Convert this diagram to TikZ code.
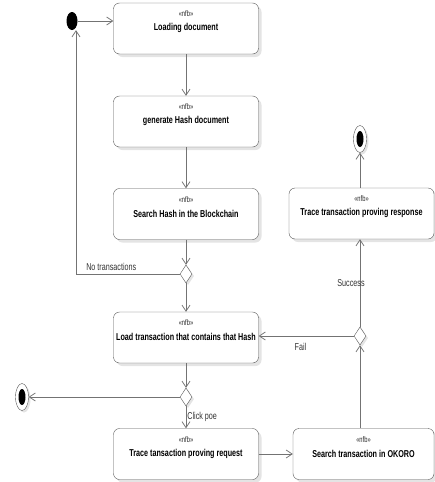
\documentclass[tikz,border=0pt]{standalone}
\usepackage{fontspec}
\setmainfont{Liberation Sans}[FakeStretch=0.72]
\usetikzlibrary{arrows.meta,shapes.geometric,shadows}
\definecolor{Wire}{HTML}{737373}
\definecolor{Frame}{HTML}{555555}
\definecolor{Shade}{HTML}{E4E4E4}

\begin{document}
\begin{tikzpicture}[x=1pt,y=-1pt,>={Straight Barb[length=6pt,width=8pt]},
    action/.style={draw=Frame,fill=white,rounded corners=6pt,minimum height=51pt,
      drop shadow={shadow xshift=3pt,shadow yshift=-3pt,fill=Shade,opacity=1}},
    branch/.style={diamond,draw=Frame,fill=white,inner sep=0pt,
      minimum width=12pt,minimum height=18pt,
      drop shadow={shadow xshift=2pt,shadow yshift=-2pt,fill=Shade,opacity=1}},
    flow/.style={->,draw=Wire,line width=0.75pt},
    lbl/.style={font=\fontsize{10}{12}\selectfont,text=black!80}]
  \useasboundingbox (0,0) rectangle (435,482);

  % activity boxes
  \foreach \n/\x/\y/\w/\t in {load/186/28.5/145/Loading document,
      hash/186/121.5/145/generate Hash document,
      search/186/214/145/Search Hash in the Blockchain,
      loadtx/186/337.5/145/Load transaction that contains that Hash,
      request/186/454/145/Trace tansaction proving request,
      okoro/363.5/454/141/Search transaction in OKORO,
      response/361.5/213.5/145/Trace transaction proving response} {
    \node[action,minimum width=\w pt] (\n) at (\x,\y) {};
    \node[font=\fontsize{8}{9}\selectfont,text=black!85] (\n-st) at ([yshift=-11pt]\n.north) {«nfb»};
    \node[font=\bfseries\fontsize{10}{12}\selectfont,text=black] (\n-tx) at ([yshift=-25.5pt]\n.north) {\t};
  }

  % start and final nodes
  \node[ellipse,fill=black,inner sep=0pt,minimum width=11pt,minimum height=18pt] (start) at (72,21) {};
  \node[ellipse,draw=Frame,fill=white,inner sep=0pt,minimum width=13pt,minimum height=27pt,
        drop shadow={shadow xshift=2pt,shadow yshift=-2pt,fill=Shade,opacity=1}] (end1) at (22,397) {};
  \node[ellipse,fill=black,inner sep=0pt,minimum width=7pt,minimum height=16pt] (end1-dot) at (end1) {};
  \node[ellipse,draw=Frame,fill=white,inner sep=0pt,minimum width=13pt,minimum height=27pt,
        drop shadow={shadow xshift=2pt,shadow yshift=-2pt,fill=Shade,opacity=1}] (end2) at (360,139) {};
  \node[ellipse,fill=black,inner sep=0pt,minimum width=7pt,minimum height=16pt] (end2-dot) at (end2) {};

  % decisions
  \node[branch] (d1) at (186,274) {};
  \node[branch] (d2) at (186,397) {};
  \node[branch] (d3) at (360,336) {};

  % flows
  \draw[flow] (start.east) -- (start.east -| load.west);
  \draw[flow] (load.south) -- (hash.north);
  \draw[flow] (hash.south) -- (search.north);
  \draw[flow] (search.south) -- (d1.north);
  \draw[flow] (d1.west) -| node[lbl,above,pos=0.33] {No transactions} ([xshift=4pt]start.south);
  \draw[flow] (d1.south) -- (loadtx.north);
  \draw[flow] (loadtx.south) -- (d2.north);
  \draw[flow] (d2.west) -- (end1.east);
  \draw[flow] (d2.south) -- node[lbl,anchor=west,inner sep=1pt] {Click poe} (request.north);
  \draw[flow] (request.east) -- (okoro.west);
  \draw[flow] (okoro.north -| d3.south) -- (d3.south);
  \draw[flow] (d3.west) -- node[lbl,below,pos=0.56,yshift=-4pt] {Fail} (d3.west -| loadtx.east);
  \draw[flow] (d3.north) -- node[lbl,xshift=-9pt] {Success} (d3.north |- response.south);
  \draw[flow] (response.north -| end2) -- (end2);
\end{tikzpicture}
\end{document}
